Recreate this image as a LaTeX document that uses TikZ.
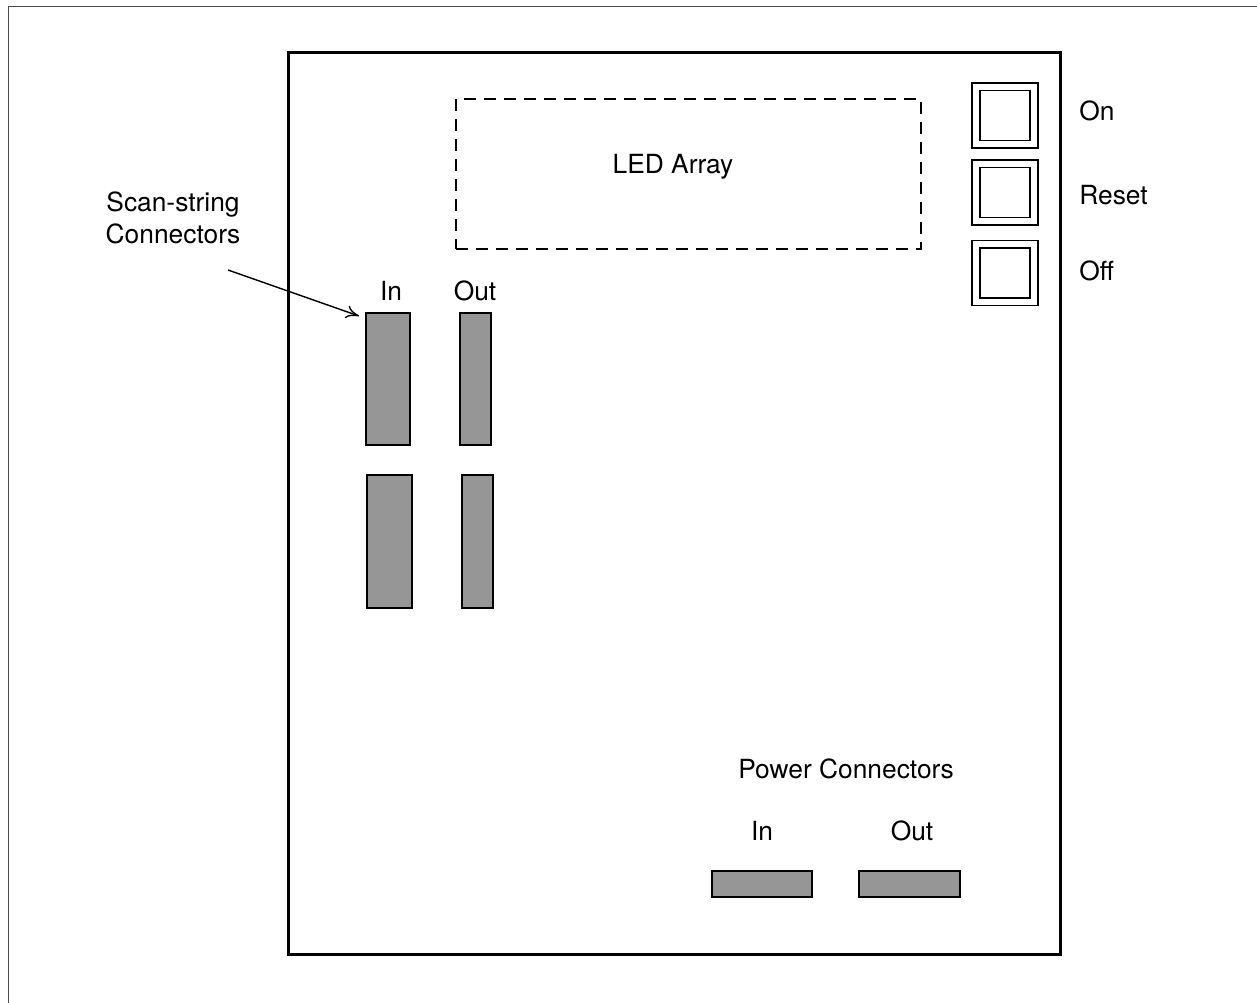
\documentclass[tikz,border=0pt]{standalone}
\usepackage{fontspec}
\setmainfont{TeX Gyre Heros}
\usetikzlibrary{arrows.meta,positioning}
\definecolor{pinGray}{RGB}{150,150,150}
\begin{document}
\begin{tikzpicture}[x=0.02cm, y=-0.02cm,
    lbl/.style={font=\fontsize{15}{18}\selectfont, inner sep=0pt},
    conn/.style={draw, line width=1.1pt, fill=pinGray, inner sep=0pt},
    btn/.style={draw, line width=1pt, inner sep=0pt, minimum width=1.32cm, minimum height=1.3cm},
    btnIn/.style={draw, line width=1pt, inner sep=0pt, minimum size=1.0cm},
    arr/.style={-{To[length=2.6mm, width=2.6mm]}, line width=0.8pt}
]
\useasboundingbox (0,0) rectangle (1257,1003);
% scan frame
\draw[line width=0.5pt, black!70] (8,1003) -- (8,6) -- (1257,6);

% Board
\node[draw, line width=1.7pt, inner sep=0pt, minimum width=15.46cm, minimum height=18.06cm] (board) at (674.5,503.5) {};

% LED array
\node[draw, dash pattern=on 0.24cm off 0.16cm, line width=0.8pt, inner sep=0pt,
      minimum width=9.3cm, minimum height=3.0cm] (led) at (688.5,174) {};
\node[lbl] (ledText) at (673,167) {LED Array};

% Buttons
\node[btn] (btnOn) at (1005,115.5) {};
\node[btnIn] (btnOnIn) at (btnOn) {};
\node[lbl, anchor=west] (onText) at (1079,111) {On};
\node[btn] (btnReset) at (1005,192.5) {};
\node[btnIn] (btnResetIn) at (btnReset) {};
\node[lbl, anchor=west] (resetText) at (1079,195) {Reset};
\node[btn] (btnOff) at (1005,273) {};
\node[btnIn] (btnOffIn) at (btnOff) {};
\node[lbl, anchor=west] (offText) at (1079,271) {Off};

% Scan-string connectors
\node[lbl, align=center] (scanText) at (173,218) {Scan-string\\Connectors};
\node[lbl] (scanIn) at (391,291) {In};
\node[lbl] (scanOut) at (475,291) {Out};
\node[conn, minimum width=0.88cm, minimum height=2.64cm] (inA) at (388,379) {};
\node[conn, minimum width=0.62cm, minimum height=2.64cm] (outA) at (475.5,379) {};
\node[conn, minimum width=0.9cm, minimum height=2.66cm] (inB) at (389.5,541.5) {};
\node[conn, minimum width=0.62cm, minimum height=2.66cm] (outB) at (477.5,541.5) {};
\coordinate (arrStart) at (228,270);
\draw[arr] (arrStart) -- ([xshift=-0.12cm, yshift=-0.08cm]inA.north west);

% Power connectors
\node[lbl] (powerText) at (846,769) {Power Connectors};
\node[lbl] (powerIn) at (762,831) {In};
\node[lbl] (powerOut) at (912,831) {Out};
\node[conn, minimum width=2.0cm, minimum height=0.52cm] (pwrIn) at (762,884) {};
\node[conn, minimum width=2.02cm, minimum height=0.52cm] (pwrOut) at (909.5,884) {};
\end{tikzpicture}
\end{document}
